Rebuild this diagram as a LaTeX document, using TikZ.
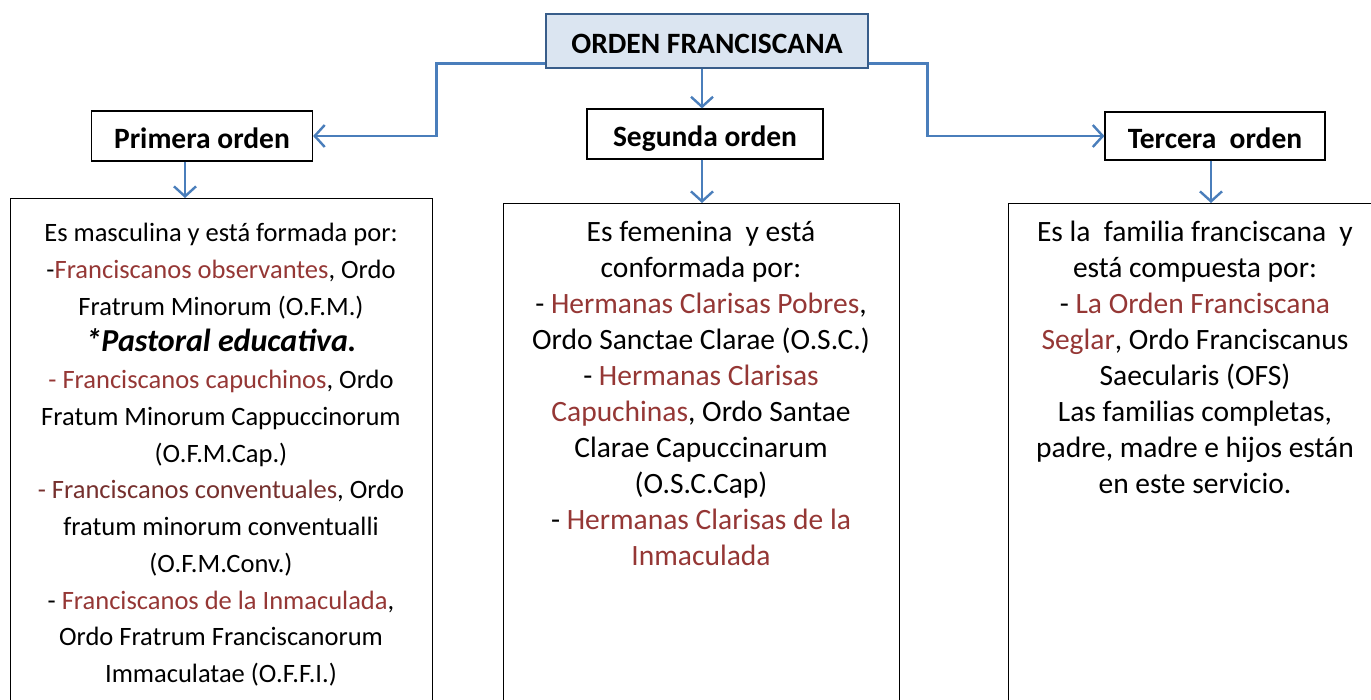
\documentclass[tikz,border=0pt]{standalone}
\usepackage{fontspec}
\setmainfont{Carlito}
\usetikzlibrary{arrows.meta,positioning}
\definecolor{titlefill}{HTML}{DBE5F1}
\definecolor{titledraw}{HTML}{385D8A}
\definecolor{linkblue}{HTML}{4A7EBB}
\definecolor{ordred}{HTML}{953735}
\definecolor{ordbrown}{HTML}{76302E}
\newcommand{\rd}[1]{\textcolor{ordred}{#1}}
\newcommand{\bn}[1]{\textcolor{ordbrown}{#1}}
\tikzstyle{headbox} = [rectangle, draw=titledraw, fill=titlefill, line width=1.3pt,
    minimum width=322pt, minimum height=54pt, text height=24pt, text depth=0pt,
    font=\fontsize{29.5}{34}\selectfont\bfseries]
\tikzstyle{ob} = [rectangle, draw, line width=1.2pt, minimum height=50pt,
    text height=24pt, text depth=0pt, font=\fontsize{29.5}{34}\selectfont\bfseries]
\tikzstyle{listbox} = [rectangle, draw, line width=1pt, anchor=north west]
\tikzstyle{listtext} = [align=center, anchor=north, inner sep=0pt]

\begin{document}
\begin{tikzpicture}[x=1pt,y=-1pt,>={Straight Barb[length=10pt,width=22pt]},
                    link/.style={->,draw=linkblue,line width=2.4pt}]
  \clip (0,0) rectangle (1371,699);

  \node[headbox]                      (top)      at (707,41)  {ORDEN FRANCISCANA\hspace{10pt}};
  \node[ob,minimum width=221pt]       (primera)  at (202,136) {Primera orden};
  \node[ob,minimum width=236pt]       (segunda)  at (705,134) {Segunda orden};
  \node[ob,minimum width=220pt,minimum height=48pt] (tercera) at (1215,136) {Tercera\ \ orden};

  \node[listbox,minimum width=422pt,minimum height=520pt] (box1) at (10,198)  {};
  \node[listbox,minimum width=396pt,minimum height=520pt] (box2) at (503,203) {};
  \node[listbox,minimum width=374pt,minimum height=520pt] (box3) at (1008,203) {};

  \node[listtext,font=\fontsize{26.5}{36.75}\selectfont] (txt1) at (221,223) {%
    Es masculina y está formada por:\\
    -\rd{Franciscanos observantes}, Ordo\\
    Fratrum Minorum (O.F.M.)\\
    {\fontsize{32}{36.75}\selectfont\bfseries\itshape *Pastoral educativa.}\\
    \rd{- Franciscanos capuchinos}, Ordo\\
    Fratum Minorum Cappuccinorum\\
    (O.F.M.Cap.)\\
    \bn{- Franciscanos conventuales}, Ordo\\
    fratum minorum conventualli\\
    (O.F.M.Conv.)\\
    - \rd{Franciscanos de la Inmaculada},\\
    Ordo Fratrum Franciscanorum\\
    Immaculatae (O.F.F.I.)};
  \node[listtext,font=\fontsize{29.5}{36}\selectfont] (txt2) at (701,221) {%
    Es femenina\ \ y está\\
    conformada por:\\
    - \rd{Hermanas Clarisas Pobres},\\
    Ordo Sanctae Clarae (O.S.C.)\\
    - \rd{Hermanas Clarisas}\\
    \rd{Capuchinas}, Ordo Santae\\
    Clarae Capuccinarum\\
    (O.S.C.Cap)\\
    - \rd{Hermanas Clarisas de la}\\
    \rd{Inmaculada}};
  \node[listtext,font=\fontsize{29.5}{36}\selectfont] (txt3) at (1195,221) {%
    Es la\ \ familia franciscana\ \ y\\
    está compuesta por:\\
    - \rd{La Orden Franciscana}\\
    \rd{Seglar}, Ordo Franciscanus\\
    Saecularis (OFS)\\
    Las familias completas,\\
    padre, madre e hijos están\\
    en este servicio.};

  % links from the head box
  \draw[link] ([yshift=5pt]top.south west) -- ++(-109,0) |- (primera.east);
  \draw[link] ([yshift=5pt]top.south east) -- ++(59,0) |- (tercera.west);
  \draw[link] ([xshift=-3pt]segunda.north |- top.south) -- ([xshift=-3pt]segunda.north);

  % links down to the lists
  \draw[link] ([xshift=-17pt]primera.south) -- ([xshift=-17pt]primera.south |- box1.north);
  \draw[link] ([xshift=-3pt]segunda.south) -- ([xshift=-3pt]segunda.south |- box2.north);
  \draw[link] ([xshift=-4pt]tercera.south) -- ([xshift=-4pt]tercera.south |- box3.north);
\end{tikzpicture}
\end{document}
